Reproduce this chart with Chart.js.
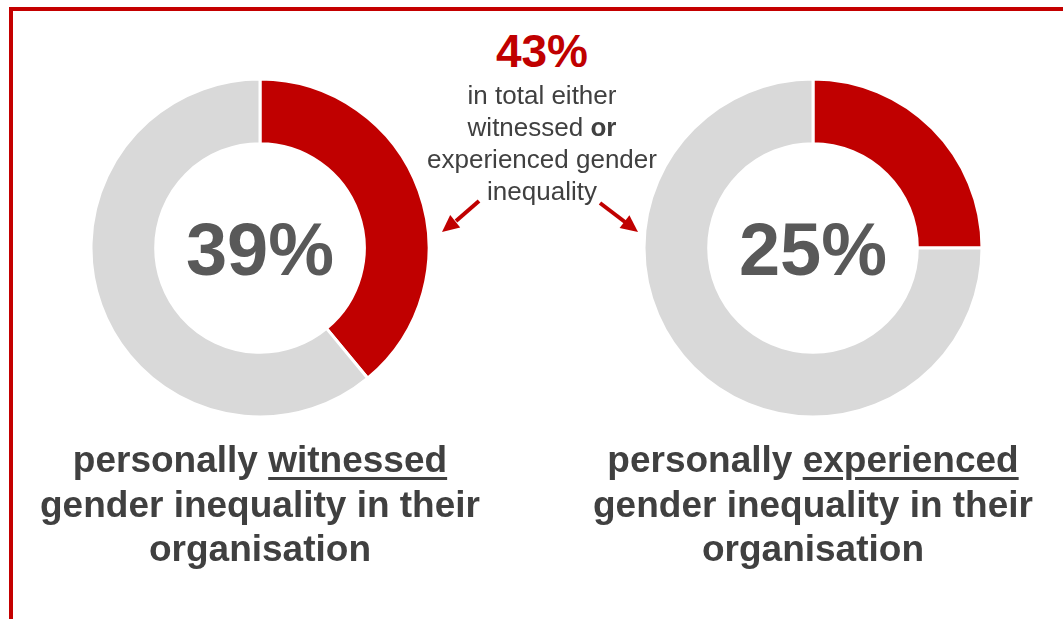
<!DOCTYPE html>
<html lang="en">
<head>
<meta charset="UTF-8" />
<title>Gender inequality</title>
<script src="https://cdn.jsdelivr.net/npm/chart.js@4.4.1/dist/chart.umd.min.js"></script>
<style>
  html, body { margin: 0; padding: 0; background: #fff; }
  body { width: 1063px; height: 619px; position: relative; overflow: hidden;
         font-family: "Liberation Sans", Arial, sans-serif; color: #404040; }
  .frame { position: absolute; left: 9px; top: 7px; width: 1100px; height: 700px;
           border-top: 4px solid #c40000; border-left: 4px solid #c40000; box-sizing: border-box; }
  .donut { position: absolute; top: 78px; width: 340px; height: 340px; }
  .centre { position: absolute; top: 208px; width: 340px; text-align: center;
            font-size: 74px; font-weight: bold; line-height: 84px; color: #595959; }
  .label { position: absolute; top: 438px; width: 520px; text-align: center;
           font-size: 37px; font-weight: bold; line-height: 44.5px; }
  .label u { text-decoration-thickness: 3px; text-underline-offset: 5px; }
  .big { position: absolute; left: 442px; top: 28px; width: 200px; text-align: center;
         font-family: "Liberation Sans", Arial, sans-serif;
         font-size: 46px; font-weight: bold; line-height: 46px; color: #c00000; }
  .note { position: absolute; left: 412px; top: 79px; width: 260px; text-align: center;
          font-family: "Liberation Sans", Arial, sans-serif;
          font-size: 26px; line-height: 32px; }
  svg { position: absolute; left: 0; top: 0; }
</style>
</head>
<body>
<div class="frame"></div>

<div class="donut" style="left:90px"><canvas id="left" width="340" height="340"></canvas></div>
<div class="donut" style="left:643px"><canvas id="right" width="340" height="340"></canvas></div>

<div class="centre" style="left:90px" id="leftValue"></div>
<div class="centre" style="left:643px" id="rightValue"></div>

<div class="big" id="total"></div>
<div class="note">in total either<br>witnessed <b>or</b><br>experienced gender<br>inequality</div>

<svg width="1063" height="619">
  <g stroke="#c00000" stroke-width="4" fill="#c00000">
    <line x1="479" y1="201" x2="456" y2="221" />
    <polygon points="442,232 460.2,227.5 450.2,215.1" stroke="none" />
    <line x1="600" y1="203" x2="625" y2="222" />
    <polygon points="638,232 619.6,228.1 629.4,215.3" stroke="none" />
  </g>
</svg>

<div class="label" style="left:0px">personally <u>witnessed</u><br>gender inequality in their<br>organisation</div>
<div class="label" style="left:553px">personally <u>experienced</u><br>gender inequality in their<br>organisation</div>

<script>
const categories = ['Yes', 'No'];
const witnessed = [39, 61];
const experienced = [25, 75];
const eitherTotal = 43;
const colours = ['#c00000', '#d9d9d9'];

document.getElementById('leftValue').textContent = witnessed[0] + '%';
document.getElementById('rightValue').textContent = experienced[0] + '%';
document.getElementById('total').textContent = eitherTotal + '%';

function donut(id, values) {
  new Chart(document.getElementById(id), {
    type: 'doughnut',
    data: {
      labels: categories,
      datasets: [{
        data: values,
        backgroundColor: colours,
        borderColor: '#ffffff',
        borderWidth: 3
      }]
    },
    options: {
      responsive: false,
      animation: false,
      radius: 169,
      cutout: 104,
      plugins: { legend: { display: false }, tooltip: { enabled: false } }
    }
  });
}

donut('left', witnessed);
donut('right', experienced);
</script>
</body>
</html>
